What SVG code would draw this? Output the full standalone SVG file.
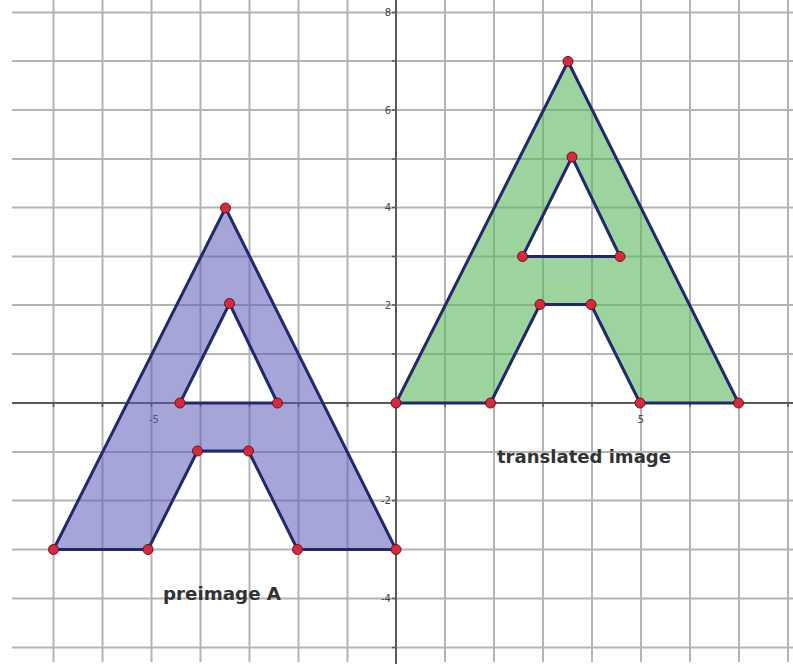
<svg xmlns="http://www.w3.org/2000/svg" width="793" height="664" viewBox="0 0 793 664">
<style>
.grid line{stroke:#b4b4b4;stroke-width:2}
.axis{stroke:#5a5a5a;stroke-width:2}
.tick{stroke:#5a5a5a;stroke-width:1.5}
.num{font-family:"DejaVu Sans",sans-serif;font-size:10px;fill:#444}
.shape{stroke:#1f2a6e;stroke-width:3;stroke-linejoin:round;fill-rule:evenodd}
.pt{fill:#d42a3c;stroke:#6b1020;stroke-width:1}
.lbl{font-family:"DejaVu Sans",sans-serif;font-weight:bold;font-size:17px;fill:#333}
</style>
<rect width="793" height="664" fill="#fff"/>
<g id="grid" class="grid">
<line x1="53.5" y1="0" x2="53.5" y2="662"/>
<line x1="102.5" y1="0" x2="102.5" y2="662"/>
<line x1="151.5" y1="0" x2="151.5" y2="662"/>
<line x1="200.5" y1="0" x2="200.5" y2="662"/>
<line x1="249.5" y1="0" x2="249.5" y2="662"/>
<line x1="298.5" y1="0" x2="298.5" y2="662"/>
<line x1="347.5" y1="0" x2="347.5" y2="662"/>
<line x1="445" y1="0" x2="445" y2="662"/>
<line x1="494" y1="0" x2="494" y2="662"/>
<line x1="543" y1="0" x2="543" y2="662"/>
<line x1="592" y1="0" x2="592" y2="662"/>
<line x1="641" y1="0" x2="641" y2="662"/>
<line x1="690" y1="0" x2="690" y2="662"/>
<line x1="739" y1="0" x2="739" y2="662"/>
<line x1="788" y1="0" x2="788" y2="662"/>
<line x1="12" y1="12.5" x2="793" y2="12.5"/>
<line x1="12" y1="61" x2="793" y2="61"/>
<line x1="12" y1="110" x2="793" y2="110"/>
<line x1="12" y1="159" x2="793" y2="159"/>
<line x1="12" y1="207.5" x2="793" y2="207.5"/>
<line x1="12" y1="256.5" x2="793" y2="256.5"/>
<line x1="12" y1="305" x2="793" y2="305"/>
<line x1="12" y1="354" x2="793" y2="354"/>
<line x1="12" y1="452" x2="793" y2="452"/>
<line x1="12" y1="500.5" x2="793" y2="500.5"/>
<line x1="12" y1="549.5" x2="793" y2="549.5"/>
<line x1="12" y1="598.5" x2="793" y2="598.5"/>
<line x1="12" y1="647.5" x2="793" y2="647.5"/>
</g>
<g id="axes">
<line class="axis" x1="12" y1="403" x2="793" y2="403"/>
<line class="axis" x1="396" y1="0" x2="396" y2="664"/>
<path class="tick" d="M392,12.5h4M392,61h4M392,110h4M392,159h4M392,207.5h4M392,256.5h4M392,305h4M392,354h4M392,452h4M392,500.5h4M392,549.5h4M392,598.5h4M392,647.5h4"/>
<path class="tick" d="M53.5,403v4M102.5,403v4M151.5,403v4M200.5,403v4M249.5,403v4M298.5,403v4M347.5,403v4M445,403v4M494,403v4M543,403v4M592,403v4M641,403v4M690,403v4M739,403v4M788,403v4"/>
<text class="num" x="391" y="16" text-anchor="end">8</text>
<text class="num" x="391" y="114" text-anchor="end">6</text>
<text class="num" x="391" y="211" text-anchor="end">4</text>
<text class="num" x="391" y="309" text-anchor="end">2</text>
<text class="num" x="391" y="504" text-anchor="end">-2</text>
<text class="num" x="391" y="602" text-anchor="end">-4</text>
<text class="num" x="154" y="423" text-anchor="middle">-5</text>
<text class="num" x="641" y="423" text-anchor="middle">5</text>
</g>
<g id="preimage">
<path class="shape" fill="#5b5bb8" fill-opacity="0.55" d="M53.5,549.5 L225.5,208 L396,549.5 L297.5,549.5 L248.5,451 L197.5,451 L148,549.5 Z M180,403 L229.5,303.5 L277.5,403 Z"/>
<circle class="pt" cx="53.5" cy="549.5" r="5"/>
<circle class="pt" cx="225.5" cy="208" r="5"/>
<circle class="pt" cx="396" cy="549.5" r="5"/>
<circle class="pt" cx="297.5" cy="549.5" r="5"/>
<circle class="pt" cx="248.5" cy="451" r="5"/>
<circle class="pt" cx="197.5" cy="451" r="5"/>
<circle class="pt" cx="148" cy="549.5" r="5"/>
<circle class="pt" cx="180" cy="403" r="5"/>
<circle class="pt" cx="229.5" cy="303.5" r="5"/>
<circle class="pt" cx="277.5" cy="403" r="5"/>
<text class="lbl" x="163" y="600" textLength="118" lengthAdjust="spacingAndGlyphs">preimage A</text>
</g>
<g id="translated">
<path class="shape" fill="#5cb85c" fill-opacity="0.6" d="M396,403 L568,61.5 L738.5,403 L640,403 L591,304.5 L540,304.5 L490.5,403 Z M522.5,256.5 L572,157 L620,256.5 Z"/>
<circle class="pt" cx="396" cy="403" r="5"/>
<circle class="pt" cx="568" cy="61.5" r="5"/>
<circle class="pt" cx="738.5" cy="403" r="5"/>
<circle class="pt" cx="640" cy="403" r="5"/>
<circle class="pt" cx="591" cy="304.5" r="5"/>
<circle class="pt" cx="540" cy="304.5" r="5"/>
<circle class="pt" cx="490.5" cy="403" r="5"/>
<circle class="pt" cx="522.5" cy="256.5" r="5"/>
<circle class="pt" cx="572" cy="157" r="5"/>
<circle class="pt" cx="620" cy="256.5" r="5"/>
<text class="lbl" x="497" y="463" textLength="174" lengthAdjust="spacingAndGlyphs">translated image</text>
</g>
</svg>
